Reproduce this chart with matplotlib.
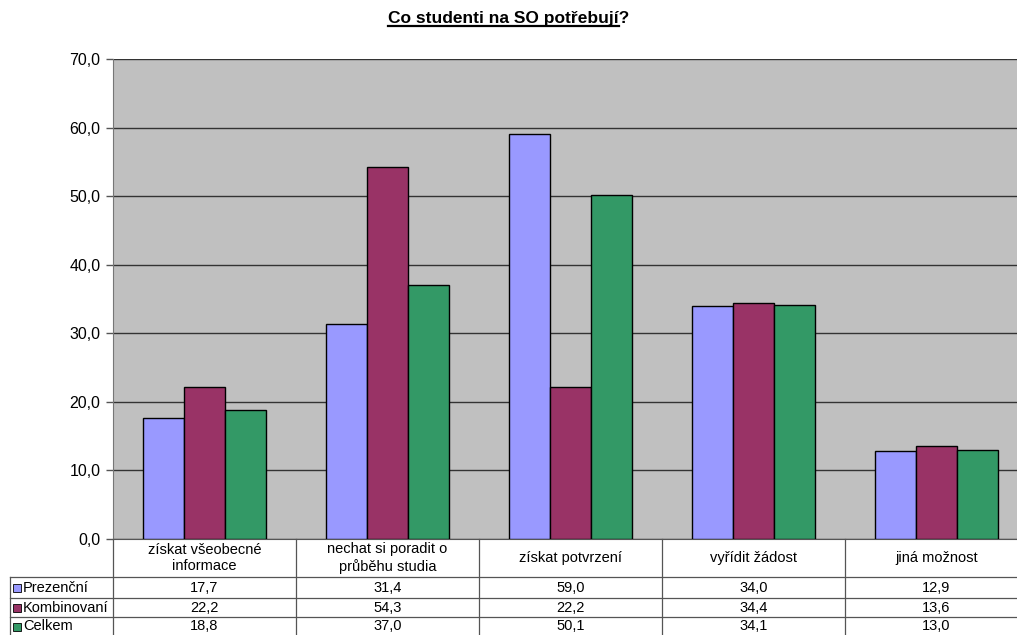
import numpy as np
import matplotlib.pyplot as plt
from matplotlib.transforms import blended_transform_factory

plt.rcParams['font.family'] = ['Liberation Sans', 'DejaVu Sans']

categories = ['získat všeobecné\ninformace', 'nechat si poradit o\nprůběhu studia',
              'získat potvrzení', 'vyřídit žádost', 'jiná možnost']
series = ['Prezenční', 'Kombinovaní', 'Celkem']
prezencni = [17.7, 31.4, 59.0, 34.0, 12.9]
kombinovani = [22.2, 54.3, 22.2, 34.4, 13.6]
celkem = [18.8, 37.0, 50.1, 34.1, 13.0]
colors = ['#9999FF', '#993366', '#339966']

W, H = 1017, 635
fig = plt.figure(figsize=(W / 100, H / 100), dpi=100)
ax = fig.add_axes([113 / W, (H - 539) / H, (1028 - 113) / W, (539 - 59) / H])
ax.set_facecolor('#C0C0C0')

ind = np.arange(len(categories))
width = 0.224
for i, (vals, c) in enumerate(zip([prezencni, kombinovani, celkem], colors)):
    ax.bar(ind + (i - 1) * width, vals, width, color=c, edgecolor='black',
           linewidth=1, zorder=3)

ax.set_xlim(-0.5, len(categories) - 0.5)
ax.set_ylim(0, 70)
ax.set_yticks(np.arange(0, 71, 10))
ax.set_yticklabels([f'{v:.1f}'.replace('.', ',') for v in np.arange(0, 71, 10)],
                   fontsize=11.5)
ax.yaxis.grid(True, color='#333333', linewidth=1, zorder=1)
ax.set_xticks([])
ax.tick_params(axis='y', length=5, width=1, color='#555555', pad=4)
for s in ['top', 'right']:
    ax.spines[s].set_visible(False)
ax.spines['left'].set_color('#777777')
ax.spines['bottom'].set_color('#555555')

# data table below the axes
tr = blended_transform_factory(ax.transData, fig.transFigure)
ftr = fig.transFigure
def fy(py):
    return (H - py) / H

rows_y = [577, 598, 617, 636]
fs = 10.5
line_kw = dict(color='#555555', linewidth=0.9, clip_on=False)
# column lines
for b in np.arange(0.5, len(categories) - 0.5, 1):
    ax.plot([b, b], [fy(539), fy(636)], transform=tr, **line_kw)
ax.plot([-0.5, -0.5], [fy(539), fy(636)], transform=tr, **line_kw)
# row lines
for y in rows_y[:3]:
    fig.add_artist(plt.Line2D([10 / W, 1], [fy(y), fy(y)], transform=ftr, **line_kw))
fig.add_artist(plt.Line2D([10 / W, 10 / W], [fy(577), fy(636)], transform=ftr, **line_kw))

for j, cat in enumerate(categories):
    ax.text(j, fy(558), cat, transform=tr, ha='center', va='center',
            fontsize=fs, linespacing=1.25)

for r, (name, vals, c) in enumerate(zip(series, [prezencni, kombinovani, celkem], colors)):
    yc = fy((rows_y[r] + rows_y[r + 1]) / 2)
    fig.add_artist(plt.Rectangle((13 / W, yc - 4 / H), 8 / W, 8 / H, transform=ftr,
                                 facecolor=c, edgecolor='black', linewidth=0.6))
    fig.text(23 / W, yc, name, ha='left', va='center', fontsize=fs)
    for j, v in enumerate(vals):
        ax.text(j, yc, f'{v:.1f}'.replace('.', ','), transform=tr,
                ha='center', va='center', fontsize=fs)

t = fig.text(0.5, fy(18), 'Co studenti na SO potřebují?', ha='center', va='center',
             fontsize=12.5, fontweight='bold')
# underline except the question mark
fig.canvas.draw()
r = fig.canvas.get_renderer()
bb = t.get_window_extent(r)
q = fig.text(0, 0, '?', fontsize=12.5, fontweight='bold')
qw = q.get_window_extent(r).width
q.remove()
fig.add_artist(plt.Line2D([bb.x0 / W, (bb.x1 - qw) / W],
                          [(bb.y0 - 0.5) / H, (bb.y0 - 0.5) / H],
                          transform=ftr, color='black', linewidth=1.6))

fig.savefig('out.png', dpi=100)
